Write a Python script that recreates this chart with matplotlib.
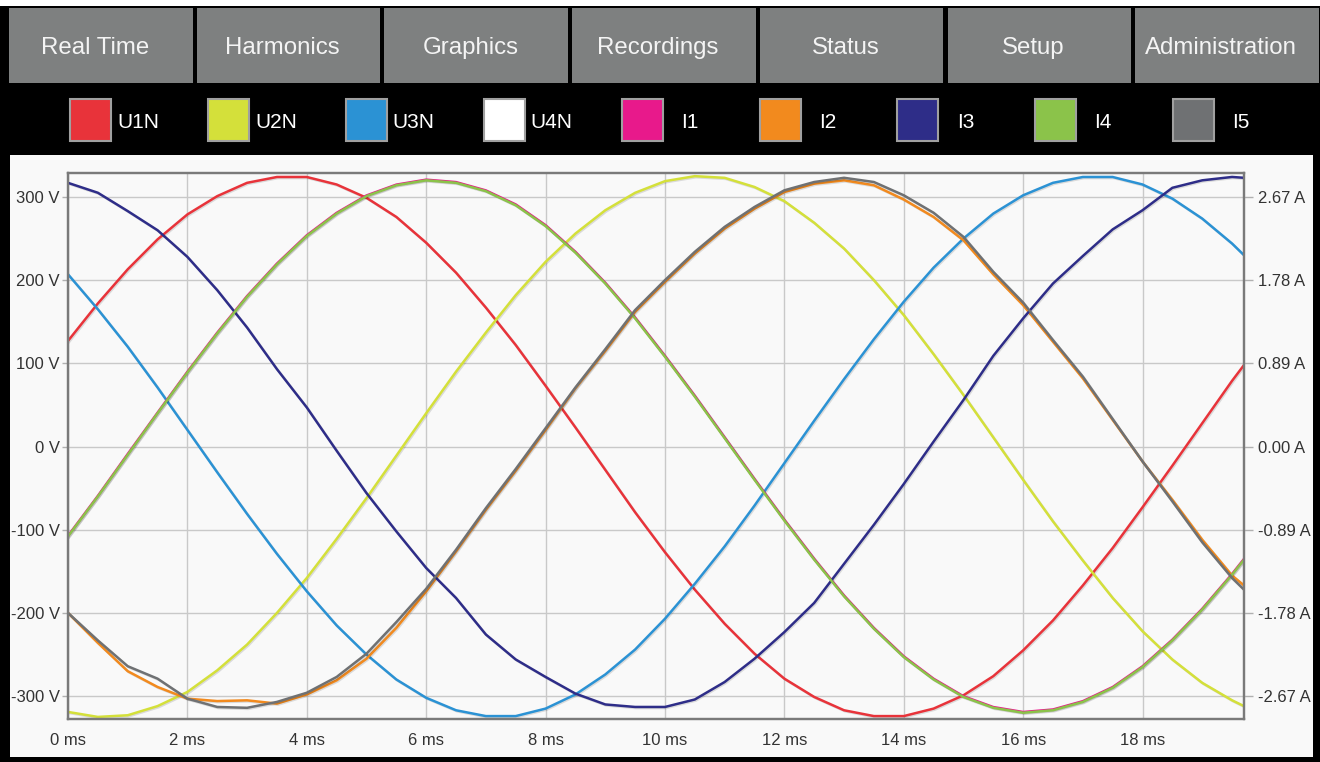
import matplotlib
matplotlib.use('Agg')
import matplotlib.pyplot as plt
from matplotlib.patches import Rectangle
import matplotlib.patheffects as pe

plt.rcParams['font.family'] = ['Liberation Sans', 'DejaVu Sans']

# ---------------- data ----------------
menu_items = ["Real Time", "Harmonics", "Graphics", "Recordings", "Status", "Setup", "Administration"]
series_names = ["U1N", "U2N", "U3N", "U4N", "I1", "I2", "I3", "I4", "I5"]
series_colors = ["#e8333a", "#d4e03a", "#2b92d4", "#ffffff", "#e8198b", "#f28a1e", "#2e2d88", "#8bc34a", "#6f7173"]

time_ms = [0.0, 0.5, 1.0, 1.5, 2.0, 2.5, 3.0, 3.5, 4.0, 4.5, 5.0, 5.5, 6.0, 6.5, 7.0, 7.5,
           8.0, 8.5, 9.0, 9.5, 10.0, 10.5, 11.0, 11.5, 12.0, 12.5, 13.0, 13.5, 14.0, 14.5,
           15.0, 15.5, 16.0, 16.5, 17.0, 17.5, 18.0, 18.5, 19.0, 19.5, 19.7]

# voltages (V)
u1n = [127, 172, 213, 249, 279, 301, 317, 324, 324, 315, 299, 276, 245, 209, 167, 122, 73, 23,
       -28, -79, -127, -172, -213, -249, -279, -301, -317, -324, -324, -315, -299, -276, -245,
       -209, -167, -122, -73, -23, 28, 79, 98]
u2n = [-319, -325, -323, -312, -295, -269, -238, -200, -158, -111, -62, -11, 40, 90, 137, 182,
       222, 256, 284, 305, 319, 325, 323, 312, 295, 269, 238, 200, 158, 111, 62, 11, -40, -90,
       -137, -182, -222, -256, -284, -305, -312]
u3n = [207, 165, 120, 71, 20, -31, -81, -129, -174, -215, -250, -280, -302, -317, -324, -324,
       -315, -298, -274, -244, -207, -165, -120, -71, -20, 31, 81, 129, 174, 215, 250, 280, 302,
       317, 324, 324, 315, 298, 274, 244, 230]

# currents (A)
i1 = [-0.955, -0.528, -0.080, 0.362, 0.800, 1.218, 1.610, 1.957, 2.260, 2.500, 2.686, 2.802,
      2.855, 2.829, 2.740, 2.590, 2.368, 2.083, 1.752, 1.380, 0.970, 0.543, 0.098, -0.347,
      -0.783, -1.201, -1.594, -1.941, -2.244, -2.484, -2.671, -2.787, -2.840, -2.813, -2.724,
      -2.573, -2.351, -2.066, -1.736, -1.363, -1.202]
i2 = [-1.780, -2.100, -2.403, -2.572, -2.697, -2.723, -2.715, -2.750, -2.652, -2.501, -2.270,
      -1.940, -1.549, -1.121, -0.676, -0.258, 0.178, 0.623, 1.024, 1.442, 1.762, 2.065, 2.332,
      2.545, 2.723, 2.812, 2.848, 2.795, 2.643, 2.456, 2.207, 1.842, 1.513, 1.121, 0.730,
      0.285, -0.160, -0.570, -0.997, -1.380, -1.486]
i3 = [2.821, 2.715, 2.519, 2.314, 2.029, 1.673, 1.273, 0.828, 0.418, -0.045, -0.498, -0.908,
      -1.299, -1.620, -2.011, -2.278, -2.465, -2.643, -2.759, -2.786, -2.786, -2.706, -2.519,
      -2.270, -1.985, -1.673, -1.255, -0.837, -0.401, 0.053, 0.498, 0.970, 1.371, 1.744,
      2.038, 2.323, 2.528, 2.768, 2.848, 2.884, 2.875]
i4 = [-0.961, -0.534, -0.089, 0.356, 0.792, 1.210, 1.602, 1.949, 2.252, 2.492, 2.679, 2.795,
      2.848, 2.821, 2.732, 2.581, 2.359, 2.074, 1.744, 1.371, 0.961, 0.534, 0.089, -0.356,
      -0.792, -1.210, -1.602, -1.949, -2.252, -2.492, -2.679, -2.795, -2.848, -2.821, -2.732,
      -2.581, -2.359, -2.074, -1.744, -1.371, -1.210]
i5 = [-1.780, -2.074, -2.350, -2.483, -2.697, -2.786, -2.795, -2.732, -2.634, -2.465, -2.216,
      -1.878, -1.522, -1.104, -0.659, -0.240, 0.196, 0.632, 1.041, 1.460, 1.780, 2.083, 2.350,
      2.563, 2.741, 2.830, 2.875, 2.830, 2.688, 2.501, 2.243, 1.869, 1.540, 1.139, 0.748,
      0.294, -0.160, -0.587, -1.024, -1.406, -1.531]

x_ticks = [0, 2, 4, 6, 8, 10, 12, 14, 16, 18]
v_ticks = [-300, -200, -100, 0, 100, 200, 300]
a_ticks = [-2.67, -1.78, -0.89, 0.0, 0.89, 1.78, 2.67]
a_labels = ["-2.67 A", "-1.78 A", "-0.89 A", "0.00 A", "0.89 A", "1.78 A", "2.67 A"]
v_limits = (-327.5, 328.8)
amp_per_volt = 0.0089

# ---------------- figure ----------------
W, H = 1320, 762
fig = plt.figure(figsize=(W / 100, H / 100), dpi=100, facecolor='white')


def fx(x):
    return x / W


def fy(y):
    return 1 - y / H


def rect(x0, y0, x1, y1, z=-10, **kw):
    r = Rectangle((fx(x0), fy(y1)), (x1 - x0) / W, (y1 - y0) / H,
                  transform=fig.transFigure, zorder=z, **kw)
    fig.add_artist(r)


rect(0, 6, W, H, facecolor='black', edgecolor='none', z=-20)
rect(10, 155, 1313, 757, facecolor='#f9f9f9', edgecolor='none', z=-15)

# menu buttons
pitch = 187.7
for i, name in enumerate(menu_items):
    left = 9 + i * pitch
    rect(left, 8, left + 183.5, 83, facecolor='#7e8080', edgecolor='none', z=-12)
    fig.text(fx(left + 86), fy(54), name, ha='center', va='baseline',
             fontsize=17.3, color='#f4f4f4')

# legend row
for i, (name, col) in enumerate(zip(series_names, series_colors)):
    left = 69 + i * 137.9
    rect(left + 1, 99, left + 42, 141, facecolor=col, edgecolor='#a0a0a0', linewidth=1.5, z=-12)
    fig.text(fx(left + 69), fy(128), name, ha='center', va='baseline',
             fontsize=15, color='white')

# ---------------- plot ----------------
ax = fig.add_axes([fx(68), fy(719), (1244 - 68) / W, (719 - 173) / H])
ax.set_facecolor('#f9f9f9')
ax.set_xlim(time_ms[0], time_ms[-1])
ax.set_ylim(*v_limits)
ax.set_xticks(x_ticks)
ax.set_xticklabels([f"{t} ms" for t in x_ticks])
ax.set_yticks(v_ticks)
ax.set_yticklabels([f"{v} V" for v in v_ticks])
ax.grid(True, color='#c9c9c9', linewidth=1.0)
ax.set_axisbelow(True)
ax.tick_params(axis='x', length=0, pad=10, labelsize=12, labelcolor='#333333')
ax.tick_params(axis='y', length=4.5, width=1, color='#b0b0b0', pad=1.5,
               labelsize=12, labelcolor='#333333')
for s in ax.spines.values():
    s.set_color('#7a7a7a')
    s.set_linewidth(1.6)

shadow = [pe.SimpleLineShadow(offset=(0.8, -0.8), shadow_color='black', alpha=0.12),
          pe.Normal()]
lw = 1.8
for vals, col in [(u1n, series_colors[0]), (u2n, series_colors[1]), (u3n, series_colors[2])]:
    ax.plot(time_ms, vals, color=col, linewidth=lw, path_effects=shadow, solid_joinstyle='round')

ax2 = ax.twinx()
ax2.set_ylim(v_limits[0] * amp_per_volt, v_limits[1] * amp_per_volt)
ax2.set_yticks(a_ticks)
ax2.set_yticklabels(a_labels)
ax2.tick_params(axis='y', length=6.5, width=1, color='#b0b0b0', pad=3.6,
                labelsize=12, labelcolor='#333333')
for s in ax2.spines.values():
    s.set_color('#7a7a7a')
    s.set_linewidth(1.6)

for vals, col in [(i1, series_colors[4]), (i2, series_colors[5]), (i3, series_colors[6]),
                  (i4, series_colors[7]), (i5, series_colors[8])]:
    ax2.plot(time_ms, vals, color=col, linewidth=lw, path_effects=shadow, solid_joinstyle='round')

fig.savefig('out.png', dpi=100, facecolor=fig.get_facecolor())
